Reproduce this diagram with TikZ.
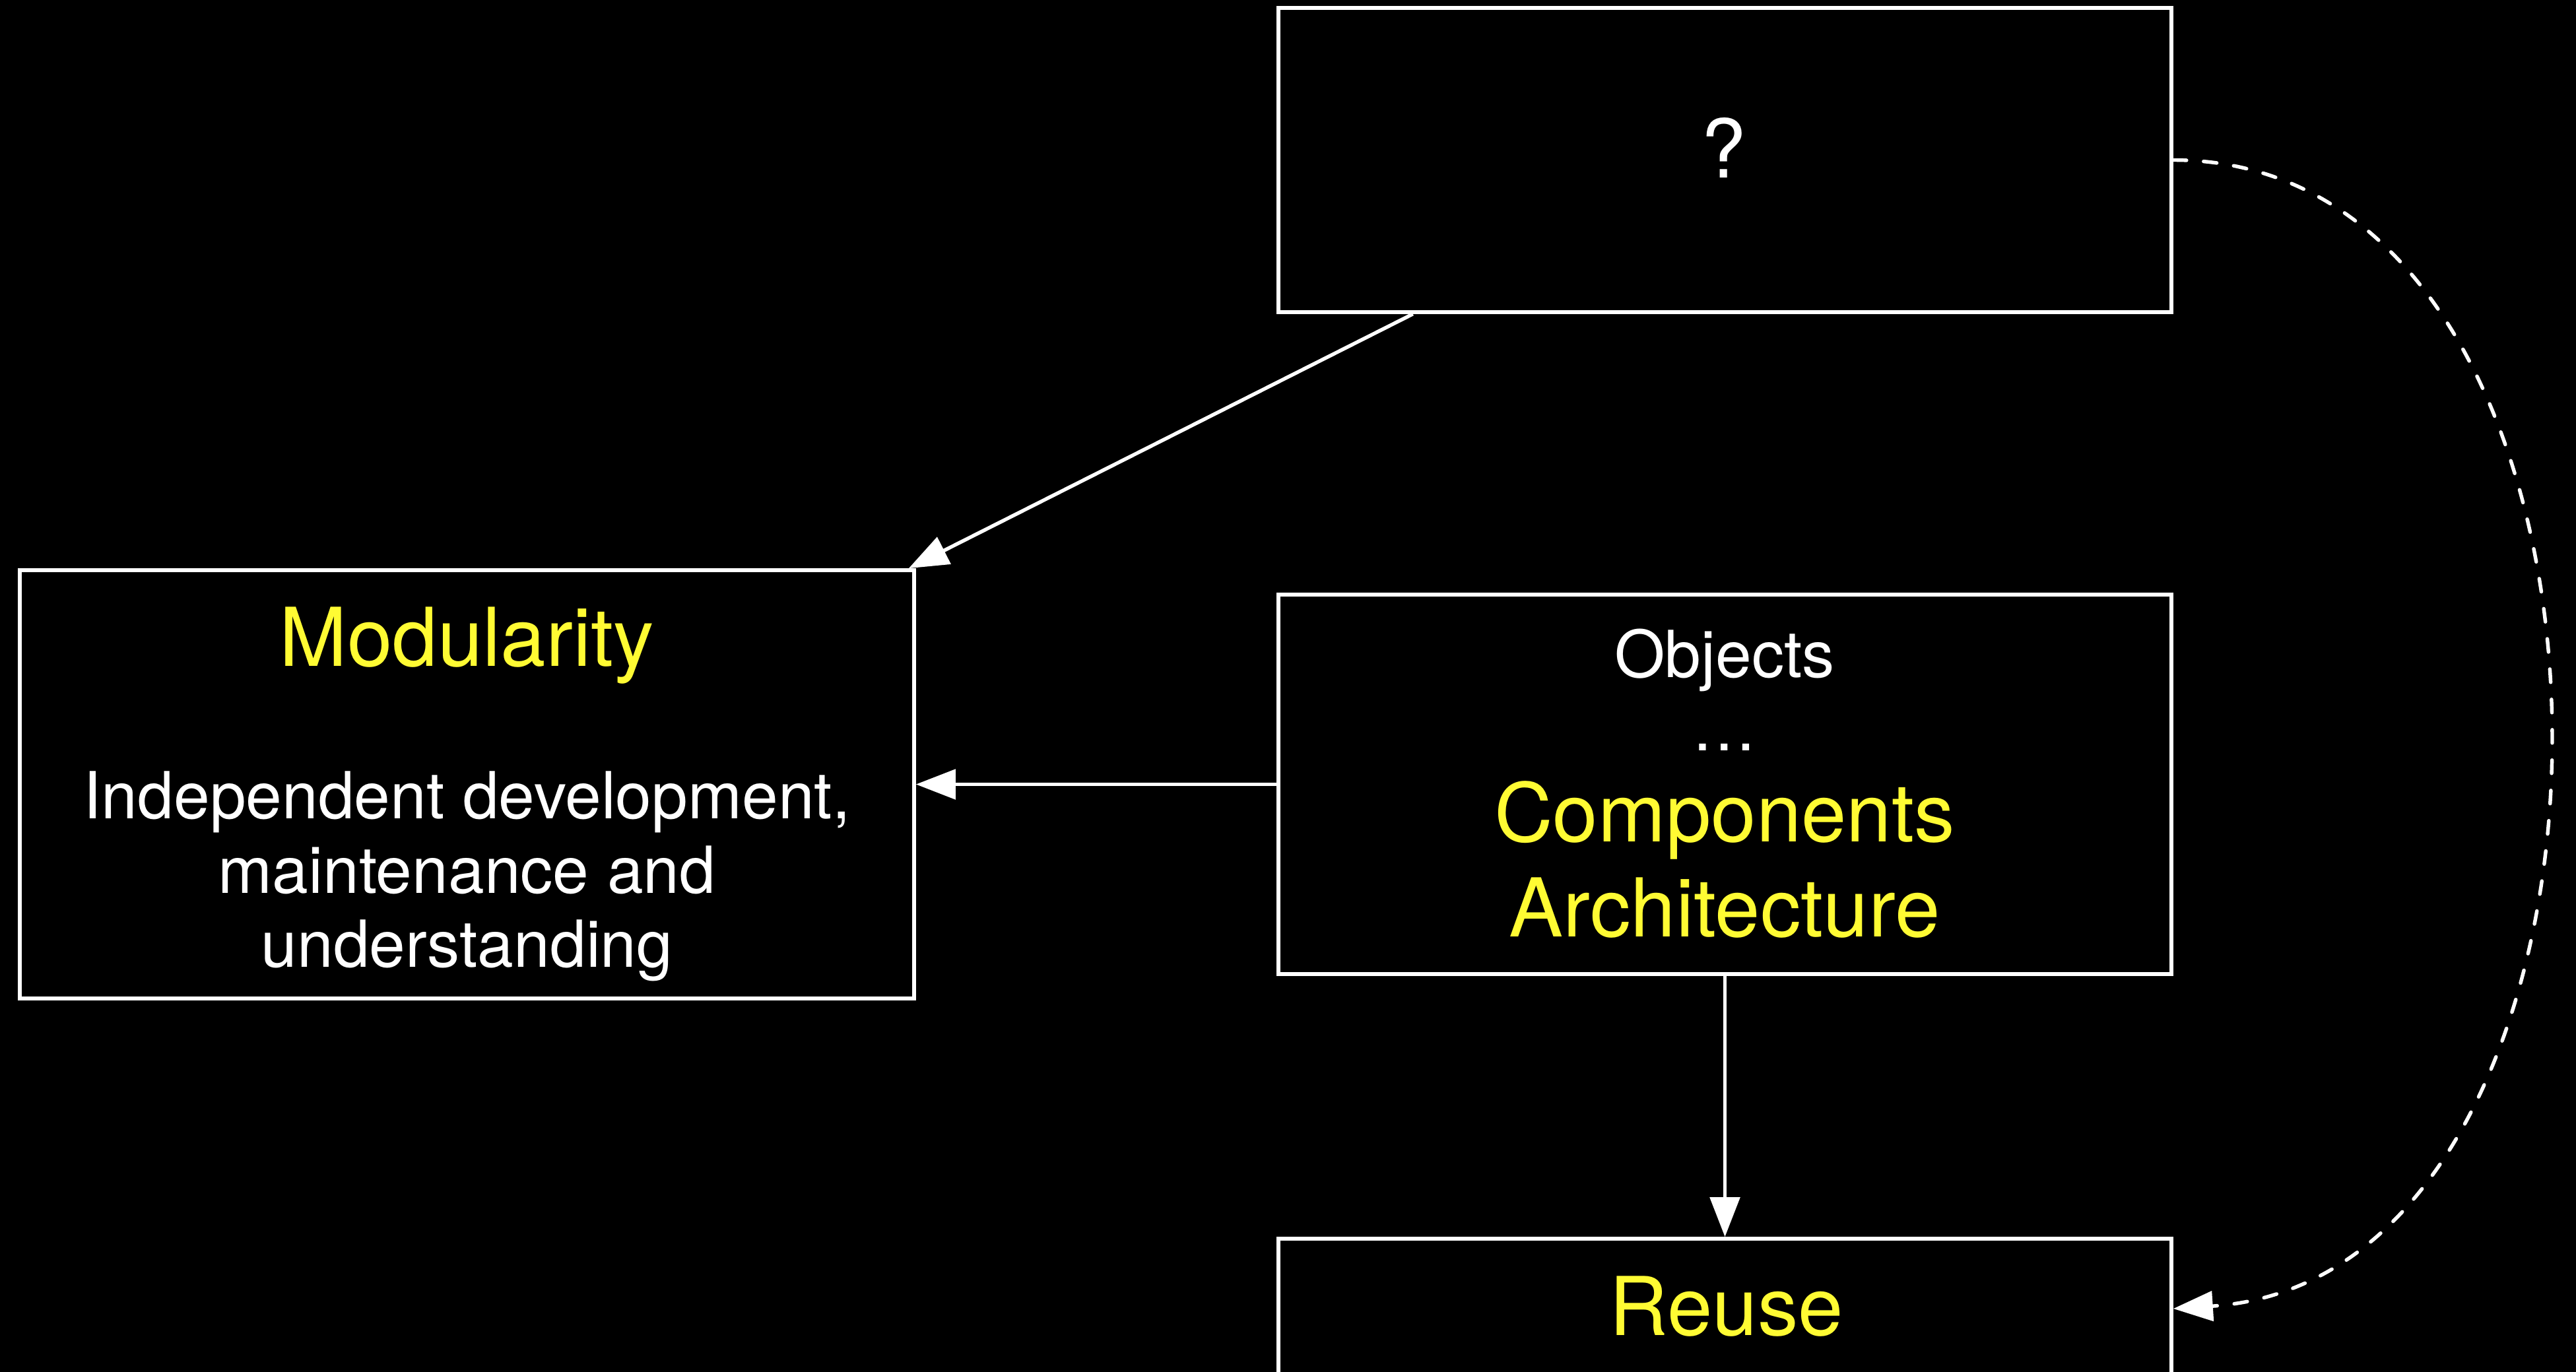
\documentclass[tikz,border=0pt]{standalone}
\usepackage{fontspec}
\setmainfont{TeX Gyre Heros}
\usetikzlibrary{arrows.meta,calc}

\definecolor{hiyellow}{RGB}{255,251,51}

\tikzset{
  box/.style={draw=white, line width=1.6pt, fill=black, inner sep=0pt},
  link/.style={draw=white, line width=1.55pt,
    -{Triangle[length=0.6cm, width=0.45cm]}},
  dashlink/.style={link, line cap=round, dash pattern=on 0.2cm off 0.26cm},
  label/.style={inner sep=0pt, anchor=base, align=center},
  bigtext/.style={label, font=\fontsize{35}{42}\selectfont},
  smalltext/.style={label, font=\fontsize{28}{32}\selectfont},
}

\begin{document}
\begin{tikzpicture}
  % canvas
  \fill[black] (0,0) rectangle (39.03,-20.79);
  \useasboundingbox (0,0) rectangle (39.03,-20.79);

  % boxes
  \node[box, minimum width=13.53cm, minimum height=4.61cm] (q)     at (26.135,-2.425) {};
  \node[box, minimum width=13.55cm, minimum height=6.49cm] (mod)   at (7.075,-11.885) {};
  \node[box, minimum width=13.53cm, minimum height=5.75cm] (obj)   at (26.135,-11.885) {};
  \node[box, minimum width=13.53cm, minimum height=2.12cm] (reuse) at (26.135,-19.83) {};

  % texts (the description node sits on the baseline of its last line)
  \node[bigtext, text=white] (qmark) at (26.12,-2.70) {?};
  \node[bigtext, text=hiyellow] (modtitle) at (7.075,-10.096) {Modularity};
  \node[smalltext, text=white] (moddesc) at (7.075,-14.655)
    {Independent development,\\maintenance and\\understanding};
  \node[smalltext, text=white] (objects) at (26.13,-10.26) {Objects};
  \node[smalltext, text=white] (ellip) at (26.13,-11.37) {\ldots};
  \node[bigtext, text=hiyellow] (comp) at (26.13,-12.75) {Components};
  \node[bigtext, text=hiyellow] (arch) at (26.13,-14.19) {Architecture};
  \node[bigtext, text=hiyellow] (reusetxt) at (26.16,-20.23) {Reuse};

  % connectors
  \draw[link] ($(q.south west)!0.152!(q.south east)$) -- ([xshift=-0.11cm]mod.north east);
  \draw[link] (obj.west) -- (mod.east);
  \draw[link] (obj.south) -- (reuse.north);
  \draw[dashlink] (q.east)
    .. controls ($(q.east)+(7.57,0)$) and ($(reuse.east)+(7.54,0.49)$) .. (reuse.east);
\end{tikzpicture}
\end{document}
